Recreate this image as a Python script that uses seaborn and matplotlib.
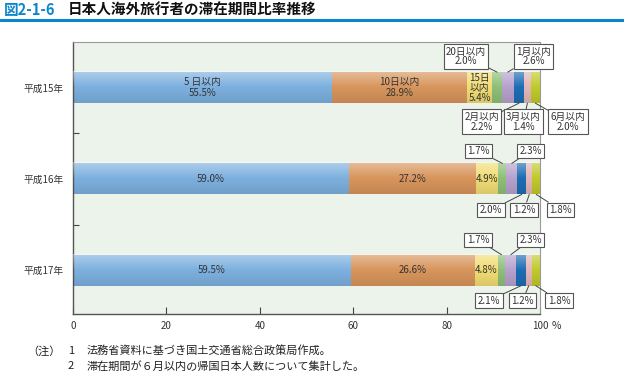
import numpy as np
import pandas as pd
import matplotlib
matplotlib.use("Agg")
import matplotlib.pyplot as plt
import seaborn as sns

# ---------------- data ----------------
years = ["平成15年", "平成16年", "平成17年"]
periods = ["5日以内", "10日以内", "15日以内", "20日以内", "1月以内", "2月以内", "3月以内", "6月以内"]
h15 = [55.5, 28.9, 5.4, 2.0, 2.6, 2.2, 1.4, 2.0]
h16 = [59.0, 27.2, 4.9, 1.7, 2.3, 2.0, 1.2, 1.8]
h17 = [59.5, 26.6, 4.8, 1.7, 2.3, 2.1, 1.2, 1.8]
xticks = [0, 20, 40, 60, 80, 100]

colors = ["#7DB0DF", "#D8955C", "#F1DD74", "#8EBF78", "#B7A1CD", "#1D6DB4", "#E4B6B8", "#C0CA2A"]

sns.set_theme(style="white")
plt.rcParams["font.family"] = ["Noto Sans CJK JP", "DejaVu Sans"]

W, H = 624, 374
fig = plt.figure(figsize=(W / 100, H / 100), dpi=100)
L, R, T, B = 73, 540, 42, 314
ax = fig.add_axes([L / W, 1 - B / H, (R - L) / W, (B - T) / H])
ax.set_facecolor("#EBF3EA")

vals = np.array([h15, h16, h17])
cum = np.cumsum(vals, axis=1)
bar_h = 0.34
for i in reversed(range(len(periods))):
    sns.barplot(x=cum[:, i], y=years, color=colors[i], orient="h", width=bar_h,
                saturation=1, ax=ax, edgecolor="none", linewidth=0)

ylim = (2.48, -0.5)
ax.set_xlim(0, 100)
ax.set_ylim(*ylim)

# gradient shading over each bar row
grad = np.zeros((64, 2, 4))
t = np.linspace(0, 1, 64)
for k, tt in enumerate(t):
    if tt < 0.5:
        grad[k, :, :3] = 1.0
        grad[k, :, 3] = 0.38 * (1 - tt / 0.5)
    else:
        grad[k, :, :3] = 0.0
        grad[k, :, 3] = 0.10 * (tt - 0.5) / 0.5
for r in range(len(years)):
    ax.imshow(grad, extent=(0, min(cum[r, -1], 100), r + bar_h / 2, r - bar_h / 2),
              aspect="auto", zorder=3, interpolation="bilinear")
ax.set_xlim(0, 100)
ax.set_ylim(*ylim)

# axes styling
ax.set_xticks(xticks)
ax.set_xticklabels([str(v) for v in xticks], fontsize=7, color="#333333")
ax.set_yticks(range(len(years)))
ax.set_yticklabels(years, fontsize=7, color="#333333")
ax.set_yticks([0.5, 1.5], minor=True)
ax.tick_params(axis="x", direction="in", length=5, width=0.8, color="#444444", pad=5, bottom=True)
ax.tick_params(axis="y", which="major", length=0, pad=7)
ax.tick_params(axis="y", which="minor", direction="in", length=4, width=0.8, color="#444444", left=True)
ax.set_xlabel("")
ax.set_ylabel("")
for s in ["left", "bottom"]:
    ax.spines[s].set_color("#555555")
    ax.spines[s].set_linewidth(1.0)
for s in ["top", "right"]:
    ax.spines[s].set_color("#9A9A9A")
    ax.spines[s].set_linewidth(0.8)
ax.annotate("%", xy=(100, 0), xycoords=("data", "axes fraction"), xytext=(8.5, -5),
            textcoords="offset points", fontsize=7.5, color="#333333", ha="left", va="top",
            annotation_clip=False)

# inside labels
txt_col = "#333333"
r0_labels = ["5 日以内\n55.5%", "10日以内\n28.9%", "15日\n以内\n5.4%"]
for r in range(len(years)):
    for i in range(3):
        mid = cum[r, i] - vals[r, i] / 2
        if r == 0:
            s = r0_labels[i]
        else:
            s = f"{vals[r, i]:.1f}%"
        ax.text(mid, r, s, ha="center", va="center", fontsize=7,
                color=txt_col, zorder=5, linespacing=1.0 if (r == 0 and i == 2) else 1.05)


def px2d(px, py):
    x = (px - L) / (R - L) * 100
    y = ylim[1] + (py - T) / (B - T) * (ylim[0] - ylim[1])
    return x, y


# callout boxes: (row, segment index, box px center, side)
callouts = [
    (0, 3, (466, 56.5), -1), (0, 4, (533.5, 56.5), -1),
    (0, 5, (481.5, 121.5), 1), (0, 6, (523.5, 121.5), 1), (0, 7, (568, 121.5), 1),
    (1, 3, (478.5, 151), -1), (1, 4, (530.5, 151), -1),
    (1, 5, (491, 210), 1), (1, 6, (524, 210), 1), (1, 7, (560.5, 210), 1),
    (2, 3, (478, 240), -1), (2, 4, (530.5, 240), -1),
    (2, 5, (489, 300.5), 1), (2, 6, (522.5, 300.5), 1), (2, 7, (559, 300.5), 1),
]
for r, i, (bx, by), side in callouts:
    mid = cum[r, i] - vals[r, i] / 2
    s = f"{vals[r, i]:.1f}%"
    if r == 0:
        s = f"{periods[i]}\n{s}"
    ax.annotate(s, xy=(mid, r + side * bar_h / 2), xytext=px2d(bx, by),
                textcoords="data", ha="center", va="center", fontsize=7, color=txt_col,
                linespacing=1.0, annotation_clip=False, zorder=6,
                bbox=dict(boxstyle="square,pad=0.25", fc="white", ec="#555555", lw=0.8),
                arrowprops=dict(arrowstyle="-", color="#444444", lw=0.7, shrinkA=0, shrinkB=0))

# title
fig.text(4 / W, 1 - 10 / H, "図2-1-6", color="#0B86CD", fontsize=10.5, va="center", ha="left",
         fontweight="bold")
fig.text(68 / W, 1 - 10 / H, "日本人海外旅行者の滞在期間比率推移", color="#111111", fontsize=10.5,
         va="center", ha="left", fontweight="bold")
fig.add_artist(plt.Line2D([0, 1], [1 - 20 / H, 1 - 20 / H], transform=fig.transFigure,
                          color="#0B86CD", lw=2.2))

# notes
fs = 8
fig.text(27 / W, 1 - 351 / H, "（注）", fontsize=fs, va="center", ha="left", color="#222222")
fig.text(68 / W, 1 - 351 / H, "1", fontsize=fs, va="center", ha="left", color="#222222")
fig.text(87 / W, 1 - 351 / H, "法務省資料に基づき国土交通省総合政策局作成。", fontsize=fs,
         va="center", ha="left", color="#222222")
fig.text(68 / W, 1 - 366 / H, "2", fontsize=fs, va="center", ha="left", color="#222222")
fig.text(87 / W, 1 - 366 / H, "滞在期間が６月以内の帰国日本人数について集計した。", fontsize=fs,
         va="center", ha="left", color="#222222")

fig.savefig("out.png", dpi=100)
